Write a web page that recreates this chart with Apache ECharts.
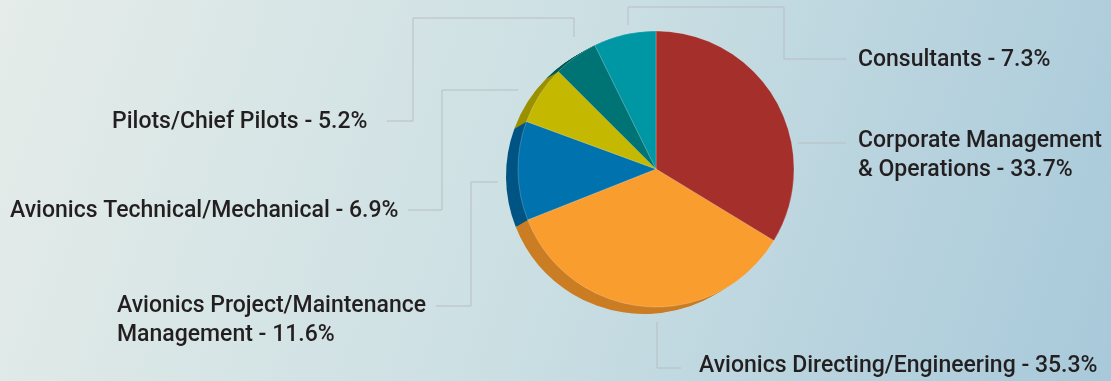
<!DOCTYPE html>
<html>
<head>
<meta charset="utf-8">
<script src="https://cdn.jsdelivr.net/npm/echarts@6/dist/echarts.min.js"></script>
<style>
html,body{margin:0;padding:0;}
#chart{width:1111px;height:381px;}
</style>
</head>
<body>
<div id="chart"></div>
<script>
// ---- data ----
const categories = [
  'Corporate Management\n& Operations',
  'Avionics Directing/Engineering',
  'Avionics Project/Maintenance\nManagement',
  'Avionics Technical/Mechanical',
  'Pilots/Chief Pilots',
  'Consultants'
];
const shares = [33.7, 35.3, 11.6, 6.9, 5.2, 7.3];
const faceColors = ['#A52F2B', '#F99D2F', '#0072AD', '#C4B800', '#007474', '#0097A4'];
const sideColors = ['#7C221F', '#CB7D23', '#005584', '#9A9000', '#005959', '#006F79'];

// ---- layout (styling only) ----
const CX = 656, CY = 169, R = 138;
const DEPTH_DX = -12, DEPTH_DY = 7, DEPTH_STEPS = 12;
// label anchor (left, top) and elbow leader routes
const labelSpots = [
  {x: 858, y: 127, line: [[798,143],[846,143]]},
  {x: 699, y: 352, line: [[657,322],[657,368],[681,368]]},
  {x: 117, y: 292, line: [[498,182],[471,182],[471,306],[436,306]]},
  {x: 10,  y: 197, line: [[518,90],[442,90],[442,210],[408,210]]},
  {x: 112, y: 108, line: [[574,37],[574,18],[413,18],[413,121],[387,121]]},
  {x: 858, y: 46,  line: [[628,25],[628,7],[784,7],[784,59],[846,59]]}
];

const chart = echarts.init(document.getElementById('chart'), null, {renderer: 'canvas'});

const series = [];
for (let s = DEPTH_STEPS; s >= 1; s--) {
  const t = s / DEPTH_STEPS;
  series.push({
    type: 'pie',
    silent: true,
    z: 1,
    startAngle: 90,
    clockwise: true,
    center: [CX + DEPTH_DX * t, CY + DEPTH_DY * t],
    radius: R,
    label: {show: false},
    labelLine: {show: false},
    animation: false,
    data: categories.map((c, i) => ({name: c, value: shares[i], itemStyle: {color: sideColors[i]}}))
  });
}
series.push({
  type: 'pie',
  z: 2,
  startAngle: 90,
  clockwise: true,
  center: [CX, CY],
  radius: R,
  animation: false,
  itemStyle: {borderColor: 'rgba(255,255,255,0.35)', borderWidth: 0.6},
  label: {
    show: true,
    formatter: p => p.name + ' - ' + p.value + '%',
    color: '#231F20',
    fontFamily: 'Roboto',
    fontWeight: 500,
    fontSize: 23,
    lineHeight: 29
  },
  labelLine: {show: true, lineStyle: {color: '#B9BEC1', width: 1}},
  labelLayout: function (params) {
    const spot = labelSpots[params.dataIndex];
    return {
      x: spot.x,
      y: spot.y,
      align: 'left',
      verticalAlign: 'top',
      labelLinePoints: spot.line
    };
  },
  emphasis: {disabled: true},
  data: categories.map((c, i) => ({name: c, value: shares[i], itemStyle: {color: faceColors[i]}}))
});

chart.setOption({
  backgroundColor: new echarts.graphic.LinearGradient(0, 0, 1, 1, [
    {offset: 0, color: '#E5ECE9'},
    {offset: 0.5, color: '#CBDFE3'},
    {offset: 1, color: '#A8C9DA'}
  ]),
  animation: false,
  series: series
});
</script>
</body>
</html>
